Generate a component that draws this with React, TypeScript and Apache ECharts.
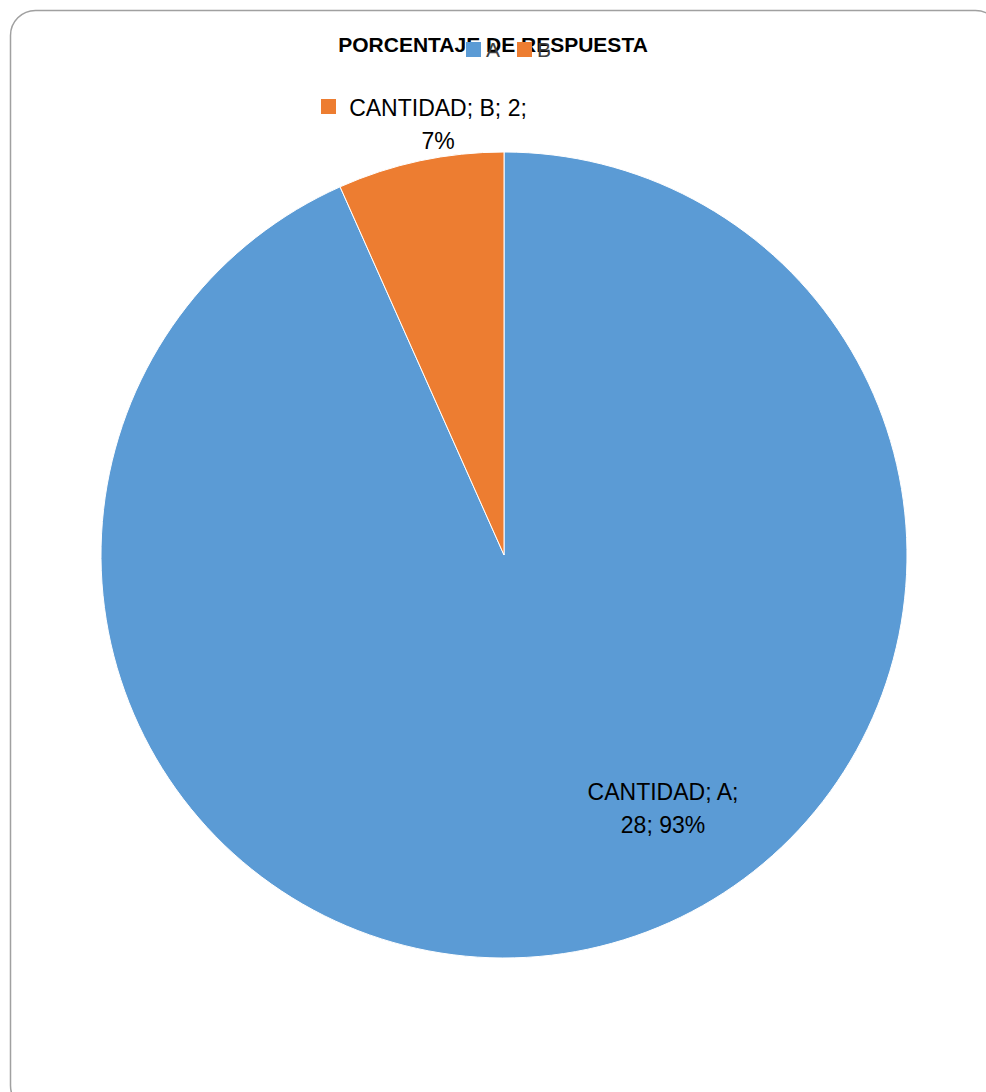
import React, { useEffect, useRef } from "react";
import * as echarts from "echarts";

const seriesName = "CANTIDAD";
const categories = ["A", "B"];
const values = [28, 2];
const colors = ["#5B9BD5", "#ED7D31"];
const titleText = "PORCENTAJE DE RESPUESTA";

export default function App() {
  const ref = useRef<HTMLDivElement>(null);
  useEffect(() => {
    if (!ref.current) return;
    const chart = echarts.init(ref.current, null, { renderer: "svg" });
    const font = "'Liberation Sans', Arial, sans-serif";
    chart.setOption({
      animation: false,
      backgroundColor: "#ffffff",
      color: colors,
      title: {
        text: titleText,
        left: "center",
        top: 29,
        z: 1,
        textStyle: { fontFamily: font, fontSize: 21, fontWeight: "bold", color: "#000000" },
      },
      legend: {
        data: categories.map((c) => ({ name: c, icon: "rect" })),
        left: 461,
        top: 34,
        padding: 5,
        z: 5,
        itemWidth: 15,
        itemHeight: 15,
        itemGap: 17,
        itemStyle: { borderWidth: 0 },
        textStyle: { fontFamily: font, fontSize: 21, color: "#404040" },
      },
      graphic: [
        {
          type: "rect",
          shape: { x: 10.5, y: 10.5, width: 990, height: 1100, r: 25 },
          style: { fill: "none", stroke: "#a0a0a0", lineWidth: 1.5 },
          silent: true,
          z: -1,
        },
        {
          type: "rect",
          shape: { x: 321, y: 99, width: 15, height: 15 },
          style: { fill: colors[1] },
          silent: true,
        },
      ],
      series: [
        {
          type: "pie",
          name: seriesName,
          center: [504, 555],
          radius: [0, 403],
          startAngle: 90,
          clockwise: true,
          percentPrecision: 0,
          itemStyle: { borderColor: "#ffffff", borderWidth: 1 },
          data: categories.map((c, i) => ({ name: c, value: values[i] })),
          labelLine: { show: false },
          label: {
            show: true,
            fontFamily: font,
            fontSize: 23,
            lineHeight: 33,
            color: "#000000",
            align: "center",
            formatter: (p: any) =>
              p.dataIndex === 0
                ? `${p.seriesName}; ${p.name};\n${p.value}; ${p.percent}%`
                : `${p.seriesName}; ${p.name}; ${p.value};\n${p.percent}%`,
          },
          labelLayout: (p: any) =>
            p.dataIndex === 0
              ? { x: 663, y: 808, align: "center", verticalAlign: "middle" }
              : { x: 438, y: 124, align: "center", verticalAlign: "middle" },
        },
      ],
    });
    return () => chart.dispose();
  }, []);
  return (
    <div
      ref={ref}
      style={{ position: "fixed", left: 0, top: 0, width: 986, height: 1092 }}
    />
  );
}
